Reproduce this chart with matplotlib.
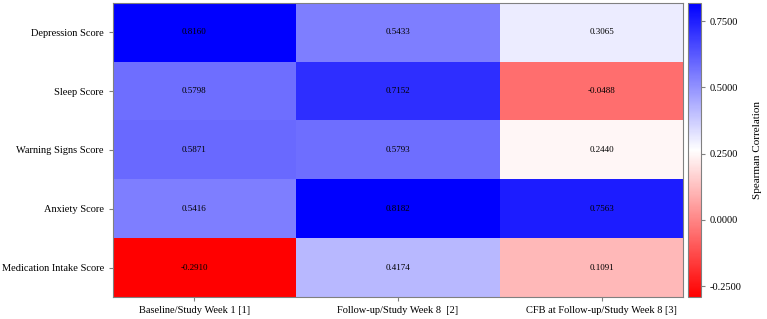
import numpy as np
import matplotlib
matplotlib.use('Agg')
import matplotlib.pyplot as plt
from matplotlib.colors import LinearSegmentedColormap

plt.rcParams['font.family'] = ['Liberation Serif', 'DejaVu Serif']

rows = ['Depression Score', 'Sleep Score', 'Warning Signs Score',
        'Anxiety Score', 'Medication Intake Score']
cols = ['Baseline/Study Week 1 [1]', 'Follow-up/Study Week 8  [2]',
        'CFB at Follow-up/Study Week 8 [3]']

week1 = [0.8160, 0.5798, 0.5871, 0.5416, -0.2910]
week8 = [0.5433, 0.7152, 0.5793, 0.8182, 0.4174]
cfb = [0.3065, -0.0488, 0.2440, 0.7563, 0.1091]

cbar_ticks = [-0.25, 0.0, 0.25, 0.5, 0.75]

data = np.array([week1, week8, cfb]).T
cmap = LinearSegmentedColormap.from_list('rwb', ['#ff0000', '#ffffff', '#0000ff'])

fig = plt.figure(figsize=(7.67, 3.19), dpi=100)
ax = fig.add_axes([0.1473, 0.069, 0.7432, 0.9216])
cax = fig.add_axes([0.897, 0.069, 0.0169, 0.9216])

im = ax.imshow(data, cmap=cmap, vmin=data.min(), vmax=data.max(),
               aspect='auto', interpolation='nearest')
ax.set_xlim(-0.4, 2.4)
ax.set_ylim(4.5, -0.5)

for i in range(data.shape[0]):
    for j in range(data.shape[1]):
        ax.text(j, i, '%.4f' % data[i, j], ha='center', va='center',
                fontsize=6.5, color='black')

ax.set_xticks(range(len(cols)))
ax.set_xticklabels(cols, fontsize=7.5)
ax.set_yticks(range(len(rows)))
ax.set_yticklabels(rows, fontsize=7.5)
ax.tick_params(color='#808080', length=3, width=0.8)
for s in ax.spines.values():
    s.set_color('#808080')
    s.set_linewidth(0.8)

cb = fig.colorbar(im, cax=cax, ticks=cbar_ticks)
cb.ax.set_yticklabels(['%.4f' % t for t in cbar_ticks], fontsize=7.5)
cb.ax.tick_params(color='#808080', length=3, width=0.8)
cb.outline.set_edgecolor('#808080')
cb.outline.set_linewidth(0.8)
cb.set_label('Spearman Correlation', fontsize=8, labelpad=8)

fig.savefig('out.png', dpi=100)
